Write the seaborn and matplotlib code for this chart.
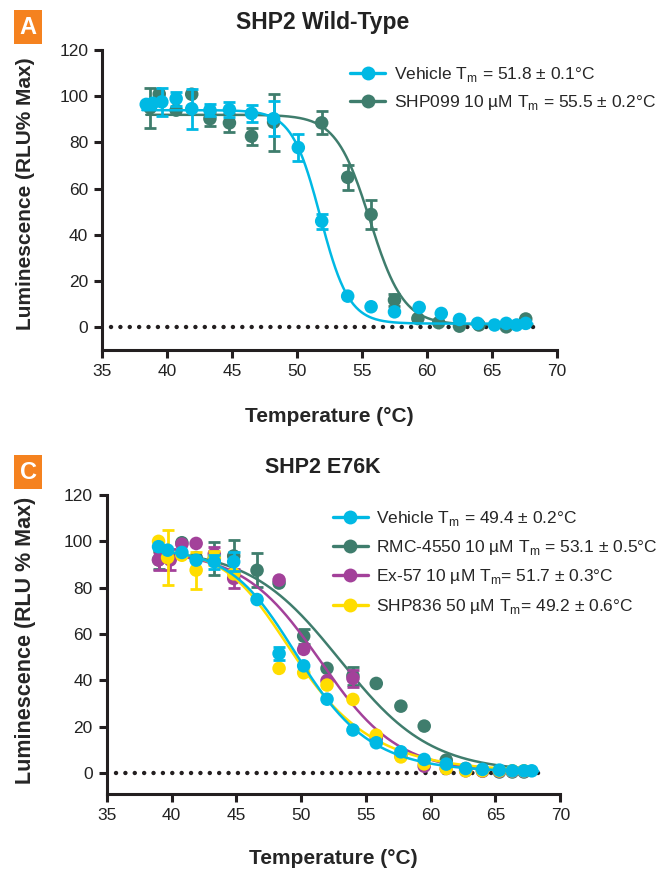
import numpy as np
import pandas as pd
import matplotlib
matplotlib.use("Agg")
import matplotlib.pyplot as plt
from matplotlib.lines import Line2D
import seaborn as sns

sns.set_theme(style="ticks")
plt.rcParams["font.family"] = ["Liberation Sans", "DejaVu Sans"]
plt.rcParams["mathtext.fontset"] = "custom"
plt.rcParams["mathtext.rm"] = "Liberation Sans"

# colours
cyan = "#00B9E4"
green = "#3F7D6D"
purple = "#A3419A"
yellow = "#FFDD00"
orange = "#F5821F"
ink = "#231F20"

# ---- panel A : SHP2 wild-type ----
a_veh_t = [38.4, 38.9, 39.6, 40.7, 41.9, 43.3, 44.8, 46.5, 48.2, 50.1, 51.9, 53.9, 55.7,
           57.5, 59.4, 61.1, 62.5, 63.9, 65.2, 66.1, 66.9, 67.6]
a_veh_v = [96.5, 97, 97.6, 99, 94.6, 94, 94.2, 92.6, 90.3, 77.8, 45.9, 13.4, 8.8,
           6.6, 8.5, 5.9, 3.3, 1.6, 0.9, 1.6, 0.9, 1.6]
a_veh_e = [0, 0, 6, 3, 8.7, 2.5, 3.2, 3.6, 7.6, 6, 3.2, 0, 0,
           0, 0, 0, 0, 0, 0, 0, 0, 0]
a_shp_t = [38.7, 39.4, 40.7, 41.9, 43.3, 44.8, 46.5, 48.2, 51.9, 53.9, 55.7, 57.5, 59.3,
           60.9, 62.5, 64.0, 66.1, 67.6]
a_shp_v = [95, 101, 94, 100.9, 90.3, 88.5, 82.7, 88.8, 88.5, 64.9, 48.8, 11.7, 3.7,
           1.9, 0.4, 0.9, 0.1, 3.5]
a_shp_e = [8.7, 0, 0, 0, 3, 4, 3.6, 12.3, 5, 5.4, 6.1, 2.5, 0,
           0, 0, 0, 0, 0]
# fitted Boltzmann curves: top, bottom, midpoint, slope, asymmetry
a_veh_fit = [94, 1.5, 51.8, 1.1, 1.0]
a_shp_fit = [92, 1.0, 55.6, 1.3, 1.0]
a_labels = ["Vehicle T$_\\mathregular{m}$ = 51.8 ± 0.1°C",
            "SHP099 10 µM T$_\\mathregular{m}$ = 55.5 ± 0.2°C"]

# ---- panel C : SHP2 E76K ----
c_veh_t = [39.0, 39.7, 40.8, 41.9, 43.3, 44.8, 46.6, 48.3, 50.2, 52.0, 54.0, 55.8, 57.7,
           59.5, 61.2, 62.7, 64.0, 65.3, 66.3, 67.2, 67.8]
c_veh_v = [97.7, 96.2, 95.2, 91.9, 91.2, 91.2, 74.9, 51.6, 46.3, 31.9, 18.6, 13.1, 9.2,
           5.9, 3.9, 2.0, 1.6, 1.3, 1.0, 1.0, 1.0]
c_veh_e = [0, 0, 0, 0, 3, 4, 0, 3, 0, 0, 0, 0, 0,
           0, 0, 0, 0, 0, 0, 0, 0]
c_rmc_t = [39.0, 40.8, 41.9, 43.3, 44.8, 46.6, 48.3, 50.2, 52.0, 54.0, 55.8, 57.7, 59.5,
           61.2, 62.7, 64.0, 65.3, 66.3, 67.2]
c_rmc_v = [92, 99.4, 93, 92.6, 93.7, 87.5, 82, 59.1, 45.2, 42, 38.7, 28.9, 20.3,
           5.6, 2, 1, 0.5, 0.5, 0.5]
c_rmc_e = [4, 0, 0, 7.2, 6.8, 7.3, 0, 3.3, 0, 4, 0, 0, 0,
           0, 0, 0, 0, 0, 0]
c_ex_t = [39.0, 39.9, 40.8, 41.9, 43.3, 44.8, 48.3, 50.2, 52.0, 54.0, 55.8, 57.7, 59.5,
          61.2, 62.7, 64.0, 65.3, 66.3, 67.2]
c_ex_v = [92, 92, 98.8, 99.1, 94.5, 84, 83.3, 53.4, 39.9, 40.9, 15, 7.5, 3,
          2, 1, 0.8, 0.8, 0.8, 0.8]
c_ex_e = [4.5, 4.5, 0, 0, 3, 4, 0, 0, 0, 3.6, 0, 0, 0,
          0, 0, 0, 0, 0, 0]
c_836_t = [39.0, 39.7, 40.8, 41.9, 43.3, 44.8, 48.3, 50.2, 52.0, 54.0, 55.8, 57.7, 59.5,
           61.2, 62.7, 64.0, 65.3, 66.3, 67.2]
c_836_v = [100, 93, 94, 87.6, 93, 86, 45.2, 43.3, 38, 31.8, 16.4, 7.0, 4,
           2, 1, 1, 1, 1, 1]
c_836_e = [0, 12, 0, 8, 3, 0, 0, 0, 0, 0, 0, 0, 0,
           0, 0, 0, 0, 0, 0]
c_veh_fit = [97, 0.5, 48.6, 2.4, 0.69]
c_rmc_fit = [97, 0.5, 53.0, 3.5, 1.0]
c_ex_fit = [96, 0.5, 51.5, 3.0, 1.0]
c_836_fit = [97, 0.5, 47.3, 2.2, 0.5]
c_labels = ["Vehicle T$_\\mathregular{m}$ = 49.4 ± 0.2°C",
            "RMC-4550 10 µM T$_\\mathregular{m}$ = 53.1 ± 0.5°C",
            "Ex-57 10 µM T$_\\mathregular{m}$= 51.7 ± 0.3°C",
            "SHP836 50 µM T$_\\mathregular{m}$= 49.2 ± 0.6°C"]

xticks = [35, 40, 45, 50, 55, 60, 65, 70]
yticks = [0, 20, 40, 60, 80, 100, 120]


def boltz(t, top, bottom, mid, slope, asym):
    t = np.asarray(t, dtype=float)
    return bottom + (top - bottom) / (1 + np.exp((t - mid) / slope)) ** asym


def draw_series(ax, t, v, e, fit, color, z):
    tt = np.linspace(min(t) - 0.3, max(t) + 0.5, 300)
    sns.lineplot(x=tt, y=boltz(tt, *fit), ax=ax, color=color, lw=1.8, zorder=z)
    df = pd.DataFrame({"t": t, "v": v, "e": e})
    eb = df[df.e > 0]
    ax.errorbar(eb.t, eb.v, yerr=eb.e, fmt="none", ecolor=color, elinewidth=2,
                capsize=4.2, capthick=2, zorder=z + 0.2)
    sns.scatterplot(data=df, x="t", y="v", ax=ax, color=color, s=95,
                    edgecolor="none", linewidth=0, zorder=z + 0.1)


def style_axes(ax, ymin, xlab_pad):
    ax.set_xlim(35, 70)
    ax.set_ylim(ymin, 120)
    ax.set_xticks(xticks)
    ax.set_yticks(yticks)
    # dotted baseline at zero
    ax.plot([35.7, 68.4], [0, 0], color=ink, lw=3.2, linestyle=(0, (0.01, 2.1)),
            dash_capstyle="round", zorder=1)
    sns.despine(ax=ax)
    for s in ["left", "bottom"]:
        ax.spines[s].set_linewidth(2.2)
        ax.spines[s].set_color(ink)
    ax.tick_params(width=2.2, length=6, color=ink, labelsize=12.5,
                   labelcolor="#222222", pad=4)
    ax.set_xlabel("Temperature (°C)", fontsize=15, fontweight="bold", labelpad=xlab_pad)
    ax.set_ylabel("")


def legend(ax, colors, labels, anchor, spacing):
    hs = [Line2D([0], [0], color=c, lw=2.4, marker="o", ms=10, markeredgewidth=0)
          for c in colors]
    ax.legend(hs, labels, loc="upper left", bbox_to_anchor=anchor,
              bbox_transform=ax.figure.transFigure, frameon=False, fontsize=12.5,
              handlelength=2.0, handletextpad=0.5, labelspacing=spacing,
              borderpad=0, borderaxespad=0)


fig = plt.figure(figsize=(6.67, 8.71), dpi=100)

axA = fig.add_axes([0.153, 0.598, 0.682, 0.3444])
draw_series(axA, a_shp_t, a_shp_v, a_shp_e, a_shp_fit, green, 3)
draw_series(axA, a_veh_t, a_veh_v, a_veh_e, a_veh_fit, cyan, 5)
style_axes(axA, -10, 20)
legend(axA, [cyan, green], a_labels, (0.525, 0.925), 0.52)

axC = fig.add_axes([0.160, 0.0884, 0.680, 0.3433])
draw_series(axC, c_rmc_t, c_rmc_v, c_rmc_e, c_rmc_fit, green, 2)
draw_series(axC, c_ex_t, c_ex_v, c_ex_e, c_ex_fit, purple, 3)
draw_series(axC, c_836_t, c_836_v, c_836_e, c_836_fit, yellow, 4)
draw_series(axC, c_veh_t, c_veh_v, c_veh_e, c_veh_fit, cyan, 5)
style_axes(axC, -9, 19)
legend(axC, [cyan, green, purple, yellow], c_labels, (0.499, 0.416), 0.6)

# y labels, titles and panel letters
fig.text(0.038, 0.778, "Luminescence (RLU% Max)", rotation=90, ha="center", va="center",
         fontsize=15, fontweight="bold")
fig.text(0.038, 0.265, "Luminescence (RLU % Max)", rotation=90, ha="center", va="center",
         fontsize=15.5, fontweight="bold")
fig.text(0.484, 0.974, "SHP2 Wild-Type", ha="center", va="center", fontsize=16.5,
         fontweight="bold", color="#222222")
fig.text(0.484, 0.463, "SHP2 E76K", ha="center", va="center", fontsize=15.5,
         fontweight="bold", color="#222222")
for letter, y in [("A", 0.969), ("C", 0.458)]:
    fig.text(0.042, y, letter, ha="center", va="center", fontsize=17, color="white",
             fontweight="bold",
             bbox=dict(boxstyle="square,pad=0.22", facecolor=orange, edgecolor="none"))

fig.savefig("out.png", dpi=100)
